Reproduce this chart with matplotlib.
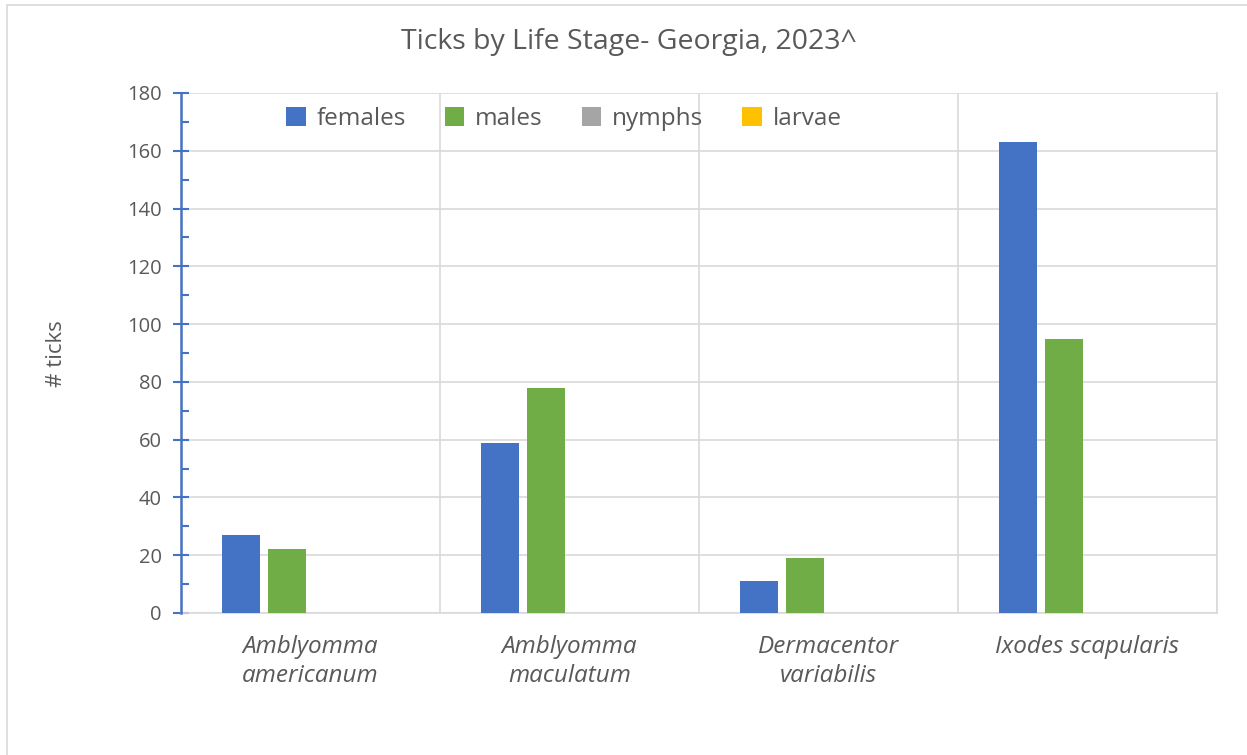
import matplotlib
matplotlib.use("Agg")
import matplotlib.pyplot as plt
from matplotlib.patches import Rectangle
from matplotlib.ticker import MultipleLocator
import numpy as np

plt.rcParams['font.family'] = ['Open Sans', 'DejaVu Sans']

categories = ["Amblyomma\namericanum", "Amblyomma\nmaculatum", "Dermacentor\nvariabilis", "Ixodes scapularis"]
series_names = ["females", "males", "nymphs", "larvae"]
females = [27, 59, 11, 163]
males = [22, 78, 19, 95]
nymphs = [0, 0, 0, 0]
larvae = [0, 0, 0, 0]
colors = ["#4472C4", "#70AD47", "#A5A5A5", "#FFC000"]
title = "Ticks by Life Stage- Georgia, 2023^"
ylabel = "# ticks"

W, H = 1247, 755
fig = plt.figure(figsize=(W / 100, H / 100), dpi=100)
ax = fig.add_axes([181 / W, 1 - 613 / H, (1217 - 181) / W, (613 - 93) / H])

# outer chart border
fig.patches.append(Rectangle((7 / W, -0.1), 1.2, 1 - 5 / H + 0.1, transform=fig.transFigure,
                             fill=False, edgecolor="#D9D9D9", linewidth=1.2))

x = np.arange(len(categories))
width = 0.147
offsets = [-0.268, -0.089, 0.091, 0.27]
all_series = [females, males, nymphs, larvae]
handles = []
for vals, name, col, off in zip(all_series, series_names, colors, offsets):
    b = ax.bar(x + off, vals, width, color=col, label=name, zorder=3)
    handles.append(b)

ax.set_xlim(-0.5, len(categories) - 0.5)
ax.set_ylim(0, 180)
ax.yaxis.set_major_locator(MultipleLocator(20))
ax.yaxis.set_minor_locator(MultipleLocator(10))
ax.grid(axis='y', which='major', color="#D9D9D9", linewidth=1.2, zorder=0)
for xv in np.arange(0.5, len(categories), 1.0):
    ax.axvline(xv, color="#D9D9D9", linewidth=1.2, zorder=0)

ax.spines["top"].set_visible(False)
ax.spines["right"].set_color("#D9D9D9")
ax.spines["right"].set_linewidth(1.2)
ax.spines["bottom"].set_color("#D9D9D9")
ax.spines["bottom"].set_linewidth(1.2)
ax.spines["left"].set_color("#4472C4")
ax.spines["left"].set_linewidth(1.8)
ax.spines["left"].set_zorder(5)

ax.tick_params(axis='y', which='major', direction='inout', length=12, width=1.5,
               color="#4472C4", labelsize=14.5, labelcolor="#595959", pad=8)
ax.tick_params(axis='y', which='minor', direction='in', length=6, width=1.5, color="#4472C4")
ax.set_xticks(x)
ax.set_xticklabels(categories, fontsize=17.5, style='italic', color="#595959", linespacing=1.25)
ax.tick_params(axis='x', length=0, pad=16)

fig.text(629 / W, 1 - 42 / H, title, ha='center', va='center', fontsize=20.5, color="#595959")
fig.text(57 / W, 1 - 354 / H, ylabel, ha='center', va='center', rotation=90, fontsize=16, color="#595959")

leg = ax.legend(handles=handles, labels=series_names, ncol=4, loc='center',
                bbox_to_anchor=((564 - 181) / (1217 - 181), (613 - 119) / (613 - 93)),
                frameon=False, fontsize=17.5, handlelength=0.8, handleheight=0.8,
                handletextpad=0.45, columnspacing=1.6, labelcolor="#595959")

fig.savefig("out.png", dpi=100)
